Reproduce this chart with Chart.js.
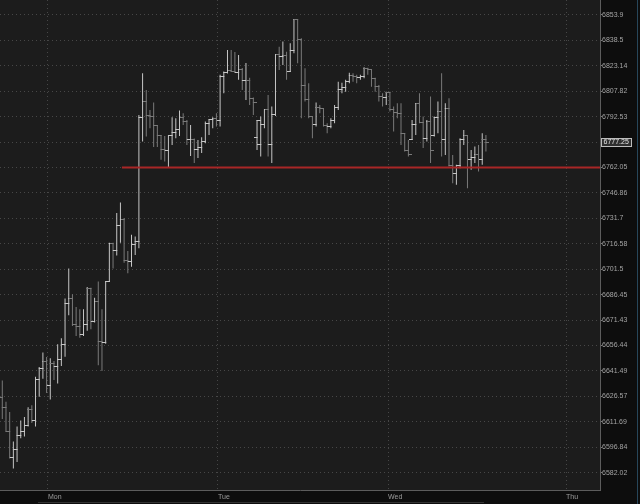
<!DOCTYPE html>
<html><head><meta charset="utf-8">
<script src="https://cdn.jsdelivr.net/npm/chart.js@4/dist/chart.umd.min.js"></script>
<style>html,body{margin:0;padding:0;background:#0c0c0c;overflow:hidden}</style>
</head><body>
<canvas id="c" width="640" height="504" style="display:block;width:640px;height:504px"></canvas>
<script>
// ---- data (30-min OHLC bars) ----
const opens = [
6625.7,6619.8,6606.0,6590.9,6595.6,6603.5,6606.0,6609.6,6618.8,6612.3,
6636.5,6642.8,6646.8,6633.0,6646.0,6644.0,6648.4,6657.2,6681.2,6684.2,
6669.0,6667.4,6663.1,6668.6,6690.3,6670.6,6682.2,6658.8,6658.2,6694.2,
6716.6,6712.9,6727.4,6731.3,6706.8,6706.0,6716.0,6718.0,6792.2,6801.6,
6793.0,6792.6,6787.0,6781.0,6772.6,6772.2,6781.0,6783.0,6785.0,6792.2,
6789.6,6778.6,6779.0,6772.6,6774.3,6777.6,6788.6,6790.6,6791.6,6790.2,
6816.5,6819.0,6820.3,6819.7,6819.3,6820.7,6814.2,6814.2,6803.6,6780.0,
6775.6,6788.0,6796.6,6775.6,6793.6,6829.7,6828.7,6829.1,6820.0,6832.7,
6850.9,6838.8,6811.0,6802.6,6792.4,6787.6,6797.8,6797.2,6787.0,6786.6,
6790.0,6797.8,6808.6,6810.0,6813.6,6817.1,6816.6,6815.9,6816.6,6821.7,
6820.7,6815.7,6810.6,6804.6,6804.2,6807.0,6797.0,6794.8,6794.6,6782.2,
6772.2,6779.0,6787.6,6800.6,6789.0,6779.6,6789.6,6781.0,6792.2,6795.6,
6778.6,6797.6,6763.1,6758.7,6763.1,6779.0,6781.0,6766.7,6768.0,6769.6,
6766.7,6779.0];
const highs = [
6635.9,6623.4,6617.5,6600.2,6609.0,6612.5,6614.5,6620.2,6621.4,6638.1,
6643.8,6652.3,6649.7,6648.9,6647.4,6657.2,6660.7,6684.2,6701.9,6686.7,
6679.2,6677.9,6677.9,6691.0,6690.6,6684.7,6694.2,6677.9,6694.6,6717.2,
6717.2,6734.9,6741.2,6731.9,6712.3,6722.0,6721.0,6793.6,6818.7,6808.6,
6796.6,6801.0,6787.5,6781.6,6781.0,6781.0,6792.2,6791.6,6796.2,6794.6,
6790.6,6787.6,6779.5,6778.6,6780.2,6789.6,6791.0,6792.2,6794.6,6817.7,
6819.7,6832.7,6832.7,6831.5,6829.7,6821.9,6824.9,6815.9,6804.0,6790.6,
6792.6,6796.6,6805.6,6798.6,6829.7,6834.7,6837.8,6831.7,6836.8,6851.3,
6851.3,6839.8,6821.7,6812.7,6792.6,6801.0,6799.6,6797.6,6788.6,6791.6,
6799.6,6813.6,6813.0,6814.7,6819.0,6818.7,6817.7,6817.7,6822.3,6822.0,
6821.0,6816.0,6811.6,6806.6,6807.6,6807.6,6798.6,6800.6,6800.6,6782.6,
6778.6,6790.6,6800.6,6806.6,6792.6,6790.6,6804.6,6792.6,6801.6,6818.7,
6800.6,6803.6,6769.6,6763.7,6779.6,6784.6,6781.6,6772.6,6774.6,6775.6,
6782.6,6781.6];
const lows = [
6613.3,6606.0,6590.3,6584.4,6588.3,6602.1,6603.1,6609.0,6611.0,6609.0,
6626.3,6636.9,6628.6,6624.7,6636.2,6634.2,6644.4,6649.9,6674.3,6668.0,
6662.1,6661.1,6662.1,6665.1,6666.1,6670.0,6644.8,6641.5,6657.5,6694.0,
6701.9,6709.7,6717.2,6705.4,6699.1,6703.0,6710.0,6714.0,6777.6,6780.6,
6785.6,6774.3,6774.3,6766.7,6765.6,6762.3,6775.6,6779.6,6781.0,6787.6,
6775.6,6769.0,6764.7,6767.7,6770.7,6776.6,6781.6,6785.6,6786.6,6786.6,
6806.6,6818.5,6819.5,6818.9,6814.7,6808.6,6802.6,6799.6,6793.6,6772.6,
6768.6,6785.6,6768.6,6764.7,6793.0,6820.7,6823.7,6814.7,6819.5,6830.7,
6824.7,6791.6,6801.6,6791.6,6779.6,6786.6,6794.6,6786.6,6782.6,6785.6,
6788.6,6796.6,6806.6,6807.6,6812.7,6813.6,6812.7,6814.7,6815.7,6817.7,
6810.6,6807.6,6801.6,6798.6,6799.6,6795.6,6783.6,6791.6,6775.6,6771.6,
6768.6,6778.6,6781.6,6788.6,6773.7,6777.6,6764.7,6780.6,6782.6,6768.6,
6769.6,6762.7,6752.7,6751.7,6761.7,6775.6,6749.7,6760.7,6764.7,6759.7,
6763.7,6771.6];
const closes = [
6619.8,6606.0,6590.9,6595.6,6603.5,6606.0,6609.6,6618.8,6612.3,6636.5,
6642.8,6646.8,6633.0,6646.0,6644.0,6648.4,6657.2,6681.2,6684.2,6669.0,
6667.4,6663.1,6668.6,6690.3,6670.6,6682.2,6658.8,6658.2,6694.2,6716.6,
6712.9,6727.4,6731.3,6706.8,6706.0,6716.0,6718.0,6792.2,6801.6,6793.0,
6792.6,6787.0,6781.0,6772.6,6772.2,6781.0,6783.0,6785.0,6792.2,6789.6,
6778.6,6779.0,6772.6,6774.3,6777.6,6788.6,6790.6,6791.6,6790.2,6816.5,
6819.0,6820.3,6819.7,6819.3,6820.7,6814.2,6814.2,6803.6,6801.0,6790.0,
6788.0,6796.6,6775.6,6793.6,6829.7,6828.7,6829.1,6820.0,6832.7,6850.9,
6838.8,6811.0,6802.6,6792.4,6787.6,6797.8,6797.2,6787.0,6786.6,6790.0,
6797.8,6808.6,6810.0,6813.6,6817.1,6816.6,6815.9,6816.6,6821.7,6820.7,
6815.7,6810.6,6804.6,6804.2,6807.0,6797.0,6794.8,6794.6,6782.2,6772.2,
6769.6,6787.6,6800.6,6789.0,6779.6,6789.6,6772.2,6792.2,6795.6,6778.6,
6797.6,6763.1,6758.7,6763.1,6779.0,6781.0,6766.7,6768.0,6769.6,6766.7,
6779.0,6777.25];

const dayTickPositions = [12.38, 58.42, 104.5, 152.7];   // bar-index position of each day start
const dayLabels = ['Mon', 'Tue', 'Wed', 'Thu'];
const priceTicks = [6853.9,6838.5,6823.14,6807.82,6792.53,6777.25,6762.05,6746.86,6731.7,6716.58,6701.5,6686.45,6671.43,6656.44,6641.49,6626.57,6611.69,6596.84,6582.02];
const priceTickLabels = ['6853.9','6838.5','6823.14','6807.82','6792.53','6777.25','6762.05','6746.86','6731.7','6716.58','6701.5','6686.45','6671.43','6656.44','6641.49','6626.57','6611.69','6596.84','6582.02'];
const supportLevel = 6762.05;
const supportStartIndex = 32.4;
const lastPrice = 6777.25;

// ---- view / styling ----
const X_MIN = -0.62, X_MAX = 161.9;
const Y_MIN = 6571.95, Y_MAX = 6862.99;
const BRIGHT = '#c6c6c6', DIM = '#7a7a7a';
const FONT = {family: 'Liberation Sans', size: 7};

const isUp = closes.map((c, i) => c >= opens[i]);
function tickImage(color, side) {
  const cv = document.createElement('canvas');
  cv.width = 7; cv.height = 1;
  const g = cv.getContext('2d');
  g.fillStyle = color;
  if (side === 'open') g.fillRect(0, 0, 4, 1); else g.fillRect(3, 0, 4, 1);
  return cv;
}
const openImg = {up: tickImage(BRIGHT, 'open'), dn: tickImage(DIM, 'open')};
const closeImg = {up: tickImage(BRIGHT, 'close'), dn: tickImage(DIM, 'close')};

const bgPlugin = {
  id: 'bg',
  beforeDraw(chart) {
    const {ctx, chartArea: a} = chart;
    ctx.save();
    ctx.fillStyle = '#0d0d0d';
    ctx.fillRect(0, 0, chart.width, chart.height);
    ctx.fillStyle = '#1c1c1c';
    ctx.fillRect(a.left, a.top, a.right - a.left, a.bottom - a.top);
    ctx.fillStyle = '#27465a';
    ctx.fillRect(637, 0, 1, chart.height);
    ctx.fillStyle = '#333333';
    ctx.fillRect(38, 502, 446, 1);
    ctx.restore();
  },
  afterDraw(chart) {
    const {ctx} = chart;
    const ys = chart.scales.y;
    const y = Math.round(ys.getPixelForValue(lastPrice));
    const txt = lastPrice.toFixed(2);
    ctx.save();
    ctx.font = '7px "Liberation Sans"';
    const w = Math.ceil(ctx.measureText(txt).width) + 4;
    ctx.fillStyle = '#2f2f2f';
    ctx.fillRect(601, y - 4, w, 9);
    ctx.strokeStyle = '#bdbdbd';
    ctx.lineWidth = 1;
    ctx.strokeRect(601.5, y - 3.5, w, 8);
    ctx.fillStyle = '#e6e6e6';
    ctx.textBaseline = 'middle';
    ctx.fillText(txt, 603.5, y + 0.5);
    ctx.restore();
  }
};

new Chart(document.getElementById('c'), {
  type: 'bar',
  data: {
    datasets: [
      {
        type: 'line',
        data: [{x: supportStartIndex, y: supportLevel}, {x: X_MAX, y: supportLevel}],
        borderColor: '#a82626', borderWidth: 2, pointRadius: 0, order: 0
      },
      {
        type: 'scatter',
        data: opens.map((o, i) => ({x: i, y: o})),
        pointStyle: ctx => isUp[ctx.dataIndex] ? openImg.up : openImg.dn,
        pointRadius: 1, order: 1
      },
      {
        type: 'scatter',
        data: closes.map((c, i) => ({x: i, y: c})),
        pointStyle: ctx => isUp[ctx.dataIndex] ? closeImg.up : closeImg.dn,
        pointRadius: 1, order: 1
      },
      {
        type: 'bar',
        data: highs.map((h, i) => ({x: i, y: [lows[i], h]})),
        backgroundColor: ctx => isUp[ctx.dataIndex] ? BRIGHT : DIM,
        barThickness: 1, inflateAmount: 0, borderWidth: 0, order: 2
      }
    ]
  },
  options: {
    responsive: false,
    animation: false,
    devicePixelRatio: 1,
    events: [],
    layout: {padding: 0, autoPadding: false},
    plugins: {legend: {display: false}, tooltip: {enabled: false}},
    scales: {
      x: {
        type: 'linear', min: X_MIN, max: X_MAX, bounds: 'data', offset: false,
        afterBuildTicks: s => { s.ticks = dayTickPositions.map(v => ({value: v})); },
        afterFit: s => { s.height = 14; s.paddingLeft = 0; s.paddingRight = 0; },
        ticks: {
          callback: (v, i) => dayLabels[i], autoSkip: false, maxRotation: 0, minRotation: 0,
          align: 'start', color: '#9c9c9c', font: FONT, padding: 3
        },
        grid: {color: '#474747', drawTicks: false, offset: false},
        border: {display: true, color: '#5c5c5c', dash: [1, 3]}
      },
      y: {
        type: 'logarithmic', position: 'right', min: Y_MIN, max: Y_MAX, bounds: 'data',
        beginAtZero: false,
        afterBuildTicks: s => { s.ticks = priceTicks.map(v => ({value: v})); },
        afterFit: s => { s.width = 40; s.paddingTop = 0; s.paddingBottom = 0; },
        ticks: {
          callback: (v, i) => priceTickLabels[i], autoSkip: false,
          color: '#a4a4a4', font: FONT, padding: 0
        },
        grid: {color: '#474747', tickLength: 2, tickColor: '#7a7a7a', tickBorderDash: []},
        border: {display: true, color: '#5c5c5c', dash: [1, 3]}
      }
    }
  },
  plugins: [bgPlugin]
});
</script>
</body></html>
